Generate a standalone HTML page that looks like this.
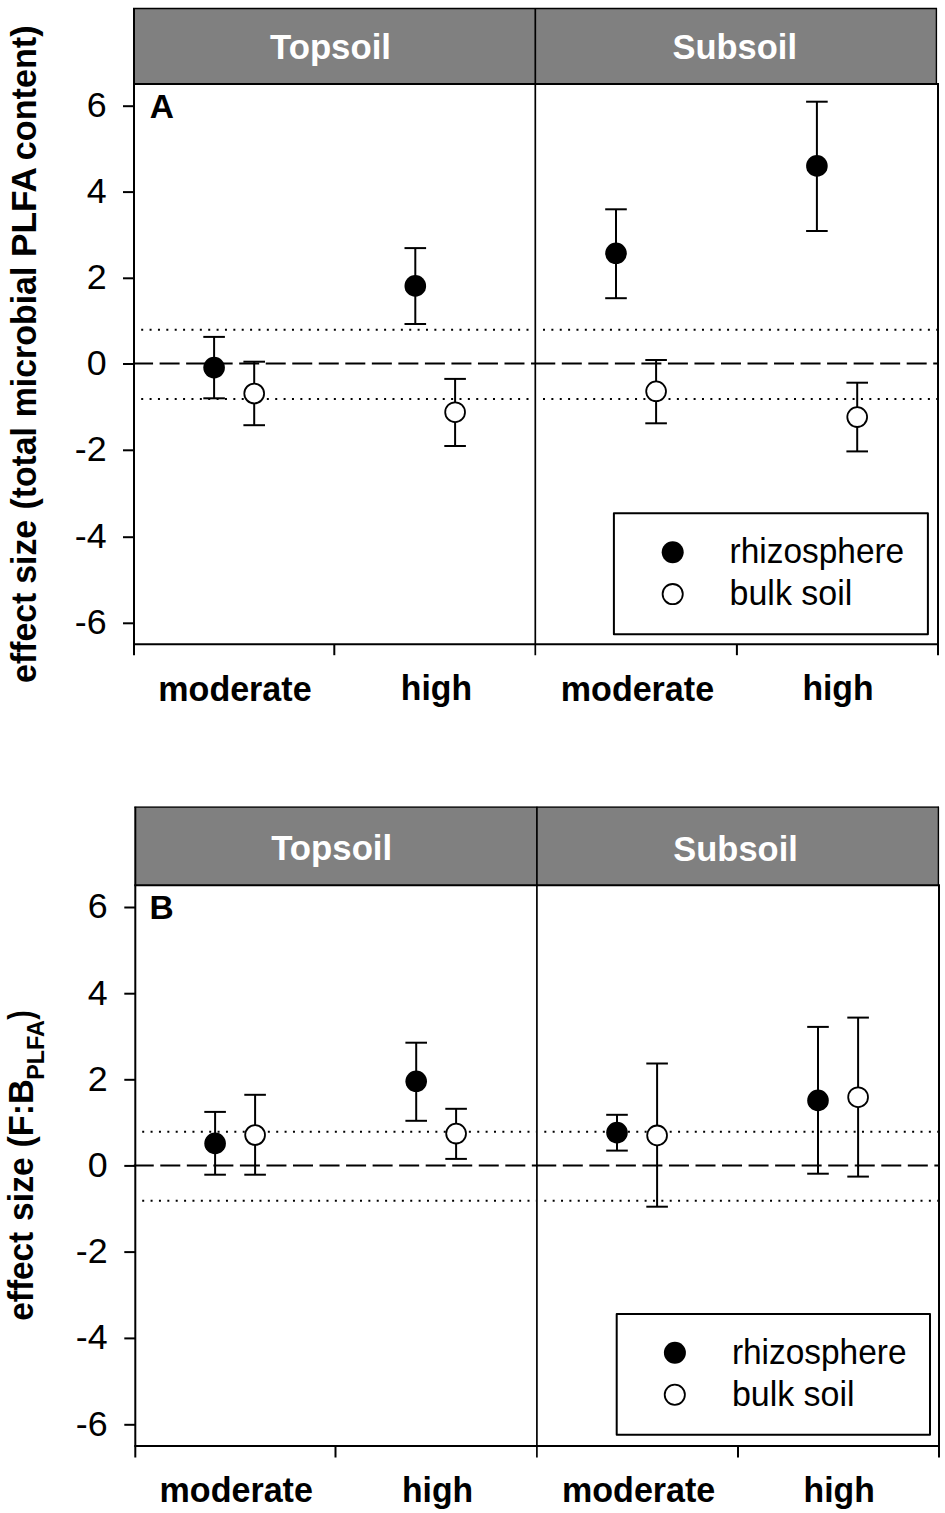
<!DOCTYPE html>
<html><head><meta charset="utf-8"><title>Effect size chart</title>
<style>
html,body{margin:0;padding:0;background:#fff;}
svg{display:block;}
text{font-family:"Liberation Sans", sans-serif;}
</style></head>
<body>
<svg width="945" height="1513" viewBox="0 0 945 1513">
<rect width="945" height="1513" fill="#fff"/>
<rect x="134" y="8" width="802.4" height="76" fill="#808080"/>
<line x1="133" y1="8.5" x2="937.0" y2="8.5" stroke="#000" stroke-width="1.3"/>
<line x1="936.4" y1="8" x2="936.4" y2="84" stroke="#000" stroke-width="1.4"/>
<line x1="133" y1="84" x2="939" y2="84" stroke="#000" stroke-width="2"/>
<line x1="134" y1="8" x2="134" y2="655.2" stroke="#000" stroke-width="2"/>
<line x1="535.3" y1="8" x2="535.3" y2="655.2" stroke="#000" stroke-width="1.7"/>
<line x1="938" y1="84" x2="938" y2="655.2" stroke="#000" stroke-width="2"/>
<line x1="133" y1="644.2" x2="939" y2="644.2" stroke="#000" stroke-width="2"/>
<line x1="334.3" y1="644.2" x2="334.3" y2="655.2" stroke="#000" stroke-width="2"/>
<line x1="736.9" y1="644.2" x2="736.9" y2="655.2" stroke="#000" stroke-width="2"/>
<line x1="123" y1="106.2" x2="134" y2="106.2" stroke="#000" stroke-width="2"/>
<text x="106.7" y="117.10000000000001" text-anchor="end" font-size="35.8">6</text>
<line x1="123" y1="192.1" x2="134" y2="192.1" stroke="#000" stroke-width="2"/>
<text x="106.7" y="203.0" text-anchor="end" font-size="35.8">4</text>
<line x1="123" y1="278.3" x2="134" y2="278.3" stroke="#000" stroke-width="2"/>
<text x="106.7" y="289.2" text-anchor="end" font-size="35.8">2</text>
<line x1="123" y1="364.0" x2="134" y2="364.0" stroke="#000" stroke-width="2"/>
<text x="106.7" y="374.9" text-anchor="end" font-size="35.8">0</text>
<line x1="123" y1="450.3" x2="134" y2="450.3" stroke="#000" stroke-width="2"/>
<text x="106.7" y="461.2" text-anchor="end" font-size="35.8">-2</text>
<line x1="123" y1="537.2" x2="134" y2="537.2" stroke="#000" stroke-width="2"/>
<text x="106.7" y="548.1" text-anchor="end" font-size="35.8">-4</text>
<line x1="123" y1="623.3" x2="134" y2="623.3" stroke="#000" stroke-width="2"/>
<text x="106.7" y="634.1999999999999" text-anchor="end" font-size="35.8">-6</text>
<line x1="133.07" y1="363.6" x2="535.3" y2="363.6" stroke="#000" stroke-width="2" stroke-dasharray="20 6.530"/>
<line x1="535.27" y1="363.6" x2="938" y2="363.6" stroke="#000" stroke-width="2" stroke-dasharray="20 6.530"/>
<line x1="141.20" y1="329.8" x2="534" y2="329.8" stroke="#000" stroke-width="2" stroke-dasharray="2 6.376"/>
<line x1="543.00" y1="329.8" x2="937" y2="329.8" stroke="#000" stroke-width="2" stroke-dasharray="2 6.367"/>
<line x1="141.20" y1="398.9" x2="534" y2="398.9" stroke="#000" stroke-width="2" stroke-dasharray="2 6.376"/>
<line x1="543.00" y1="398.9" x2="937" y2="398.9" stroke="#000" stroke-width="2" stroke-dasharray="2 6.367"/>
<line x1="214.1" y1="336.9" x2="214.1" y2="398.3" stroke="#000" stroke-width="2"/>
<line x1="203.29999999999998" y1="336.9" x2="224.9" y2="336.9" stroke="#000" stroke-width="2"/>
<line x1="203.29999999999998" y1="398.3" x2="224.9" y2="398.3" stroke="#000" stroke-width="2"/>
<circle cx="214.1" cy="367.6" r="10.8" fill="#000"/>
<line x1="254.2" y1="361.7" x2="254.2" y2="425.2" stroke="#000" stroke-width="2"/>
<line x1="243.39999999999998" y1="361.7" x2="265.0" y2="361.7" stroke="#000" stroke-width="2"/>
<line x1="243.39999999999998" y1="425.2" x2="265.0" y2="425.2" stroke="#000" stroke-width="2"/>
<circle cx="254.2" cy="393.5" r="9.9" fill="#fff" stroke="#000" stroke-width="1.8"/>
<line x1="415.3" y1="248.1" x2="415.3" y2="324.0" stroke="#000" stroke-width="2"/>
<line x1="404.5" y1="248.1" x2="426.1" y2="248.1" stroke="#000" stroke-width="2"/>
<line x1="404.5" y1="324.0" x2="426.1" y2="324.0" stroke="#000" stroke-width="2"/>
<circle cx="415.3" cy="285.9" r="10.8" fill="#000"/>
<line x1="455.1" y1="378.9" x2="455.1" y2="446.0" stroke="#000" stroke-width="2"/>
<line x1="444.3" y1="378.9" x2="465.90000000000003" y2="378.9" stroke="#000" stroke-width="2"/>
<line x1="444.3" y1="446.0" x2="465.90000000000003" y2="446.0" stroke="#000" stroke-width="2"/>
<circle cx="455.1" cy="412.2" r="9.9" fill="#fff" stroke="#000" stroke-width="1.8"/>
<line x1="616.0" y1="209.3" x2="616.0" y2="298.2" stroke="#000" stroke-width="2"/>
<line x1="605.2" y1="209.3" x2="626.8" y2="209.3" stroke="#000" stroke-width="2"/>
<line x1="605.2" y1="298.2" x2="626.8" y2="298.2" stroke="#000" stroke-width="2"/>
<circle cx="616.0" cy="253.3" r="10.8" fill="#000"/>
<line x1="656.1" y1="360.0" x2="656.1" y2="423.3" stroke="#000" stroke-width="2"/>
<line x1="645.3000000000001" y1="360.0" x2="666.9" y2="360.0" stroke="#000" stroke-width="2"/>
<line x1="645.3000000000001" y1="423.3" x2="666.9" y2="423.3" stroke="#000" stroke-width="2"/>
<circle cx="656.1" cy="391.3" r="9.9" fill="#fff" stroke="#000" stroke-width="1.8"/>
<line x1="816.9" y1="101.7" x2="816.9" y2="231.0" stroke="#000" stroke-width="2"/>
<line x1="806.1" y1="101.7" x2="827.6999999999999" y2="101.7" stroke="#000" stroke-width="2"/>
<line x1="806.1" y1="231.0" x2="827.6999999999999" y2="231.0" stroke="#000" stroke-width="2"/>
<circle cx="816.9" cy="165.9" r="10.8" fill="#000"/>
<line x1="857.2" y1="382.7" x2="857.2" y2="451.4" stroke="#000" stroke-width="2"/>
<line x1="846.4000000000001" y1="382.7" x2="868.0" y2="382.7" stroke="#000" stroke-width="2"/>
<line x1="846.4000000000001" y1="451.4" x2="868.0" y2="451.4" stroke="#000" stroke-width="2"/>
<circle cx="857.2" cy="417.1" r="9.9" fill="#fff" stroke="#000" stroke-width="1.8"/>
<rect x="613.9" y="513.3" width="314.0" height="120.90000000000009" fill="#fff" stroke="#000" stroke-width="2" stroke-linejoin="round"/>
<circle cx="672.7" cy="552.2" r="11" fill="#000"/>
<circle cx="672.7" cy="594.1" r="10.1" fill="#fff" stroke="#000" stroke-width="1.8"/>
<text x="729.6" y="563.1" font-size="34.3" textLength="174.6" lengthAdjust="spacingAndGlyphs">rhizosphere</text>
<text x="729.6" y="605.0" font-size="34.3" textLength="122.7" lengthAdjust="spacingAndGlyphs">bulk soil</text>
<text x="270.0" y="58.8" fill="#fff" font-weight="bold" font-size="34.8" textLength="121.0" lengthAdjust="spacingAndGlyphs">Topsoil</text>
<text x="672.5" y="58.9" fill="#fff" font-weight="bold" font-size="34.8" textLength="124.5" lengthAdjust="spacingAndGlyphs">Subsoil</text>
<text x="158.3" y="701.0" font-weight="bold" font-size="34.2" textLength="153.3" lengthAdjust="spacingAndGlyphs">moderate</text>
<text x="400.8" y="700.2" font-weight="bold" font-size="34.2" textLength="71.2" lengthAdjust="spacingAndGlyphs">high</text>
<text x="560.8" y="701.0" font-weight="bold" font-size="34.2" textLength="153.3" lengthAdjust="spacingAndGlyphs">moderate</text>
<text x="802.4" y="700.2" font-weight="bold" font-size="34.2" textLength="71.2" lengthAdjust="spacingAndGlyphs">high</text>
<text x="149.8" y="117.5" font-weight="bold" font-size="33.5">A</text>
<text transform="translate(36.1,682.92) rotate(-90) scale(0.9591,1)" font-weight="bold" font-size="35.3">effect</text>
<text transform="translate(36.1,583.68) rotate(-90) scale(0.9567,1)" font-weight="bold" font-size="35.3">size</text>
<text transform="translate(36.1,509.49) rotate(-90) scale(0.9549,1)" font-weight="bold" font-size="35.3">(total</text>
<text transform="translate(36.1,417.24) rotate(-90) scale(0.9598,1)" font-weight="bold" font-size="35.3">microbial</text>
<text transform="translate(36.1,257.06) rotate(-90) scale(0.9972,1)" font-weight="bold" font-size="35.3">PLFA</text>
<text transform="translate(36.1,160.23) rotate(-90) scale(0.9685,1)" font-weight="bold" font-size="35.3">content)</text>
<rect x="135.3" y="806.7" width="803.0999999999999" height="78.59999999999991" fill="#808080"/>
<line x1="134.3" y1="807.2" x2="939.0" y2="807.2" stroke="#000" stroke-width="1.3"/>
<line x1="938.4" y1="806.7" x2="938.4" y2="885.3" stroke="#000" stroke-width="1.4"/>
<line x1="134.3" y1="885.3" x2="940" y2="885.3" stroke="#000" stroke-width="2"/>
<line x1="135.3" y1="806.7" x2="135.3" y2="1457.5" stroke="#000" stroke-width="2"/>
<line x1="536.9" y1="806.7" x2="536.9" y2="1457.5" stroke="#000" stroke-width="1.7"/>
<line x1="939" y1="885.3" x2="939" y2="1457.5" stroke="#000" stroke-width="2"/>
<line x1="134.3" y1="1445.9" x2="940" y2="1445.9" stroke="#000" stroke-width="2"/>
<line x1="335.5" y1="1445.9" x2="335.5" y2="1457.5" stroke="#000" stroke-width="2"/>
<line x1="738.0" y1="1445.9" x2="738.0" y2="1457.5" stroke="#000" stroke-width="2"/>
<line x1="124.30000000000001" y1="907.5" x2="135.3" y2="907.5" stroke="#000" stroke-width="2"/>
<text x="107.7" y="918.4" text-anchor="end" font-size="35.8">6</text>
<line x1="124.30000000000001" y1="993.7" x2="135.3" y2="993.7" stroke="#000" stroke-width="2"/>
<text x="107.7" y="1004.6" text-anchor="end" font-size="35.8">4</text>
<line x1="124.30000000000001" y1="1079.8" x2="135.3" y2="1079.8" stroke="#000" stroke-width="2"/>
<text x="107.7" y="1090.7" text-anchor="end" font-size="35.8">2</text>
<line x1="124.30000000000001" y1="1165.9" x2="135.3" y2="1165.9" stroke="#000" stroke-width="2"/>
<text x="107.7" y="1176.8000000000002" text-anchor="end" font-size="35.8">0</text>
<line x1="124.30000000000001" y1="1252.1" x2="135.3" y2="1252.1" stroke="#000" stroke-width="2"/>
<text x="107.7" y="1263.0" text-anchor="end" font-size="35.8">-2</text>
<line x1="124.30000000000001" y1="1338.4" x2="135.3" y2="1338.4" stroke="#000" stroke-width="2"/>
<text x="107.7" y="1349.3000000000002" text-anchor="end" font-size="35.8">-4</text>
<line x1="124.30000000000001" y1="1424.8" x2="135.3" y2="1424.8" stroke="#000" stroke-width="2"/>
<text x="107.7" y="1435.7" text-anchor="end" font-size="35.8">-6</text>
<line x1="133.75" y1="1165.6" x2="536.9" y2="1165.6" stroke="#000" stroke-width="2" stroke-dasharray="20 6.540"/>
<line x1="536.26" y1="1165.6" x2="939" y2="1165.6" stroke="#000" stroke-width="2" stroke-dasharray="20 6.540"/>
<line x1="142.20" y1="1131.7" x2="536" y2="1131.7" stroke="#000" stroke-width="2" stroke-dasharray="2 6.376"/>
<line x1="544.30" y1="1131.7" x2="938" y2="1131.7" stroke="#000" stroke-width="2" stroke-dasharray="2 6.360"/>
<line x1="142.20" y1="1200.8" x2="536" y2="1200.8" stroke="#000" stroke-width="2" stroke-dasharray="2 6.376"/>
<line x1="544.30" y1="1200.8" x2="938" y2="1200.8" stroke="#000" stroke-width="2" stroke-dasharray="2 6.360"/>
<line x1="215.1" y1="1111.9" x2="215.1" y2="1174.7" stroke="#000" stroke-width="2"/>
<line x1="204.29999999999998" y1="1111.9" x2="225.9" y2="1111.9" stroke="#000" stroke-width="2"/>
<line x1="204.29999999999998" y1="1174.7" x2="225.9" y2="1174.7" stroke="#000" stroke-width="2"/>
<circle cx="215.1" cy="1143.4" r="10.8" fill="#000"/>
<line x1="255.1" y1="1094.8" x2="255.1" y2="1174.7" stroke="#000" stroke-width="2"/>
<line x1="244.29999999999998" y1="1094.8" x2="265.9" y2="1094.8" stroke="#000" stroke-width="2"/>
<line x1="244.29999999999998" y1="1174.7" x2="265.9" y2="1174.7" stroke="#000" stroke-width="2"/>
<circle cx="255.1" cy="1135.0" r="9.9" fill="#fff" stroke="#000" stroke-width="1.8"/>
<line x1="416.2" y1="1042.7" x2="416.2" y2="1120.8" stroke="#000" stroke-width="2"/>
<line x1="405.4" y1="1042.7" x2="427.0" y2="1042.7" stroke="#000" stroke-width="2"/>
<line x1="405.4" y1="1120.8" x2="427.0" y2="1120.8" stroke="#000" stroke-width="2"/>
<circle cx="416.2" cy="1081.3" r="10.8" fill="#000"/>
<line x1="456.1" y1="1108.8" x2="456.1" y2="1158.9" stroke="#000" stroke-width="2"/>
<line x1="445.3" y1="1108.8" x2="466.90000000000003" y2="1108.8" stroke="#000" stroke-width="2"/>
<line x1="445.3" y1="1158.9" x2="466.90000000000003" y2="1158.9" stroke="#000" stroke-width="2"/>
<circle cx="456.1" cy="1133.6" r="9.9" fill="#fff" stroke="#000" stroke-width="1.8"/>
<line x1="617.0" y1="1114.8" x2="617.0" y2="1150.6" stroke="#000" stroke-width="2"/>
<line x1="606.2" y1="1114.8" x2="627.8" y2="1114.8" stroke="#000" stroke-width="2"/>
<line x1="606.2" y1="1150.6" x2="627.8" y2="1150.6" stroke="#000" stroke-width="2"/>
<circle cx="617.0" cy="1132.6" r="10.8" fill="#000"/>
<line x1="657.1" y1="1063.5" x2="657.1" y2="1206.7" stroke="#000" stroke-width="2"/>
<line x1="646.3000000000001" y1="1063.5" x2="667.9" y2="1063.5" stroke="#000" stroke-width="2"/>
<line x1="646.3000000000001" y1="1206.7" x2="667.9" y2="1206.7" stroke="#000" stroke-width="2"/>
<circle cx="657.1" cy="1135.4" r="9.9" fill="#fff" stroke="#000" stroke-width="1.8"/>
<line x1="818.0" y1="1026.9" x2="818.0" y2="1173.7" stroke="#000" stroke-width="2"/>
<line x1="807.2" y1="1026.9" x2="828.8" y2="1026.9" stroke="#000" stroke-width="2"/>
<line x1="807.2" y1="1173.7" x2="828.8" y2="1173.7" stroke="#000" stroke-width="2"/>
<circle cx="818.0" cy="1100.4" r="10.8" fill="#000"/>
<line x1="858.1" y1="1017.6" x2="858.1" y2="1176.6" stroke="#000" stroke-width="2"/>
<line x1="847.3000000000001" y1="1017.6" x2="868.9" y2="1017.6" stroke="#000" stroke-width="2"/>
<line x1="847.3000000000001" y1="1176.6" x2="868.9" y2="1176.6" stroke="#000" stroke-width="2"/>
<circle cx="858.1" cy="1097.2" r="9.9" fill="#fff" stroke="#000" stroke-width="1.8"/>
<rect x="616.7" y="1313.9" width="313.29999999999995" height="120.89999999999986" fill="#fff" stroke="#000" stroke-width="2" stroke-linejoin="round"/>
<circle cx="674.9" cy="1352.8" r="11" fill="#000"/>
<circle cx="674.8" cy="1394.7" r="10.1" fill="#fff" stroke="#000" stroke-width="1.8"/>
<text x="731.9" y="1364.4" font-size="34.3" textLength="174.6" lengthAdjust="spacingAndGlyphs">rhizosphere</text>
<text x="731.9" y="1406.2" font-size="34.3" textLength="122.7" lengthAdjust="spacingAndGlyphs">bulk soil</text>
<text x="271.2" y="860.3" fill="#fff" font-weight="bold" font-size="34.8" textLength="121.0" lengthAdjust="spacingAndGlyphs">Topsoil</text>
<text x="673.3" y="860.5" fill="#fff" font-weight="bold" font-size="34.8" textLength="124.5" lengthAdjust="spacingAndGlyphs">Subsoil</text>
<text x="159.6" y="1502.3" font-weight="bold" font-size="34.2" textLength="153.3" lengthAdjust="spacingAndGlyphs">moderate</text>
<text x="402.0" y="1501.5" font-weight="bold" font-size="34.2" textLength="71.2" lengthAdjust="spacingAndGlyphs">high</text>
<text x="562.0" y="1502.3" font-weight="bold" font-size="34.2" textLength="153.3" lengthAdjust="spacingAndGlyphs">moderate</text>
<text x="803.6" y="1501.5" font-weight="bold" font-size="34.2" textLength="71.2" lengthAdjust="spacingAndGlyphs">high</text>
<text x="149.6" y="918.6" font-weight="bold" font-size="33.5">B</text>
<text transform="translate(33.0,1320.70) rotate(-90) scale(0.9439,1)" font-weight="bold" font-size="35.3">effect</text>
<text transform="translate(33.0,1220.88) rotate(-90) scale(0.9552,1)" font-weight="bold" font-size="35.3">size</text>
<text transform="translate(33.0,1147.61) rotate(-90) scale(0.9686,1)" font-weight="bold" font-size="35.3">(F:B</text>
<text transform="translate(43.8,1079.87) rotate(-90) scale(0.9761,1)" font-weight="bold" font-size="24.0">PLFA</text>
<text transform="translate(33.0,1019.73) rotate(-90) scale(0.8036,1)" font-weight="bold" font-size="35.3">)</text>
</svg>
</body></html>
